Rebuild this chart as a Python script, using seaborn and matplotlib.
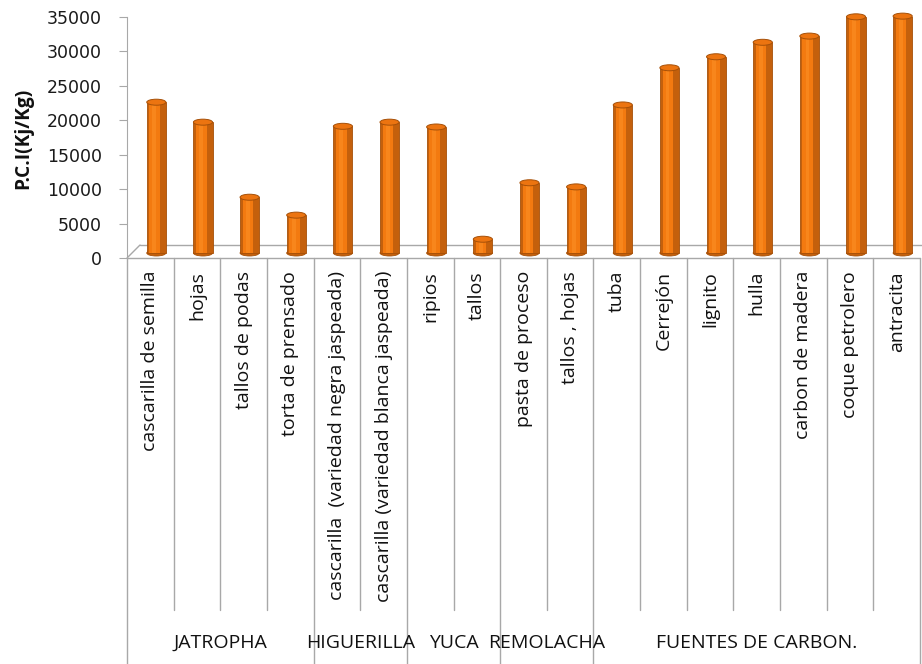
import matplotlib
matplotlib.use("Agg")
import matplotlib.pyplot as plt
import matplotlib.transforms as mtransforms
import seaborn as sns
import pandas as pd
from matplotlib.patches import Rectangle, Ellipse

categories = ["cascarilla de semilla", "hojas", "tallos de podas", "torta de prensado",
              "cascarilla  (variedad negra jaspeada)", "cascarilla (variedad blanca jaspeada)",
              "ripios", "tallos", "pasta de proceso", "tallos , hojas",
              "tuba", "Cerrejón", "lignito", "hulla", "carbon de madera",
              "coque petrolero", "antracita"]
values = [21900, 19000, 8100, 5500, 18400, 19000, 18300, 2000, 10200, 9600,
          21500, 26900, 28500, 30600, 31500, 34300, 34400]
groups = ["JATROPHA", "HIGUERILLA", "YUCA", "REMOLACHA", "FUENTES DE CARBON."]
group_sizes = [4, 2, 2, 2, 7]
yticks = [0, 5000, 10000, 15000, 20000, 25000, 30000, 35000]

sns.set_style("white")
plt.rcParams['font.family'] = ['Open Sans', 'DejaVu Sans']

W, H = 922, 664
fig = plt.figure(figsize=(W / 100, H / 100), dpi=100)
x0, x1 = 127, 920
y_zero, y_top = 258, 17
ax = fig.add_axes([x0 / W, (H - y_zero) / H, (x1 - x0) / W, (y_zero - y_top) / H])

df = pd.DataFrame({"cat": categories, "val": values})
sns.barplot(data=df, x="cat", y="val", color="#C4600C", width=0.41, ax=ax,
            saturation=1, edgecolor="#A65008", linewidth=0.6, zorder=3)

ax.set_ylim(0, 35000)
ax.set_xlim(-0.5, len(categories) - 0.5)

# depth offset of the bars (3D look): shift right and up a few pixels
depth = ax.transData + mtransforms.ScaledTranslation(6 / 100, 5 / 100, fig.dpi_scale_trans)
ell_h = 6 / (y_zero - y_top) * 35000
for p in list(ax.patches):
    x, w, h = p.get_x(), p.get_width(), p.get_height()
    p.set_transform(depth)
    extras = [
        Rectangle((x + w * 0.14, 0), w * 0.55, h, facecolor="#F37A10", edgecolor="none", zorder=4),
        Rectangle((x + w * 0.3, 0), w * 0.2, h, facecolor="#F8861C", edgecolor="none", zorder=4),
        Ellipse((x + w / 2, 0), w, ell_h, facecolor="#C4600C", edgecolor="#A65008",
                linewidth=0.6, zorder=2),
        Ellipse((x + w / 2, h), w, ell_h, facecolor="#EC7410", edgecolor="#A65008",
                linewidth=0.7, zorder=5),
    ]
    for e in extras:
        ax.add_patch(e)
        e.set_transform(depth)
        e.set_clip_on(False)

# floor
gray = "#A8A8A8"
dx, dy = 13 / (x1 - x0), 13 / (y_zero - y_top)
ax.plot([0, dx], [0, dy], color=gray, lw=1, transform=ax.transAxes, clip_on=False, zorder=1)
ax.plot([dx, 1.01], [dy, dy], color=gray, lw=1, transform=ax.transAxes, clip_on=False, zorder=1)
ax.plot([0, 1], [0, 0], color=gray, lw=1, transform=ax.transAxes, clip_on=False, zorder=1)

for s in ["top", "right", "bottom"]:
    ax.spines[s].set_visible(False)
ax.spines["left"].set_color(gray)
ax.set_yticks(yticks)
ax.set_yticklabels([str(v) for v in yticks], fontfamily="DejaVu Sans",
                   fontsize=12.5, color="#1a1a1a")
ax.tick_params(axis="y", left=True, length=6, color=gray, pad=12)
ax.set_xticks([])
ax.set_xlabel("")
ax.set_ylabel("")

fig.text(23 / W, 1 - 138 / H, "P.C.I(Kj/Kg)", rotation=90, fontweight="bold",
         fontsize=13.8, ha="center", va="center", color="#111111")

# category table below
tb = fig.add_axes([x0 / W, 0, (x1 - x0) / W, (H - y_zero) / H])
tb.set_xlim(-0.5, len(categories) - 0.5)
tb.set_ylim(0, 1)
tb.axis("off")
tab_h = H - y_zero
short_bottom = (H - 610) / tab_h
bounds = [0]
for g in group_sizes:
    bounds.append(bounds[-1] + g)
for k in range(len(categories) + 1):
    yb = 0 if k in bounds else short_bottom
    tb.plot([k - 0.5, k - 0.5], [yb, 1], color=gray, lw=1, clip_on=False)
for i, c in enumerate(categories):
    tb.text(i, (H - 271) / tab_h, c, rotation=90, ha="center", va="top",
            fontsize=14, color="#111111")
for gi, g in enumerate(groups):
    center = (bounds[gi] + bounds[gi + 1] - 1) / 2
    tb.text(center, (H - 643) / tab_h, g, ha="center", va="center",
            fontsize=14, color="#111111")

fig.savefig("out.png", dpi=100)
